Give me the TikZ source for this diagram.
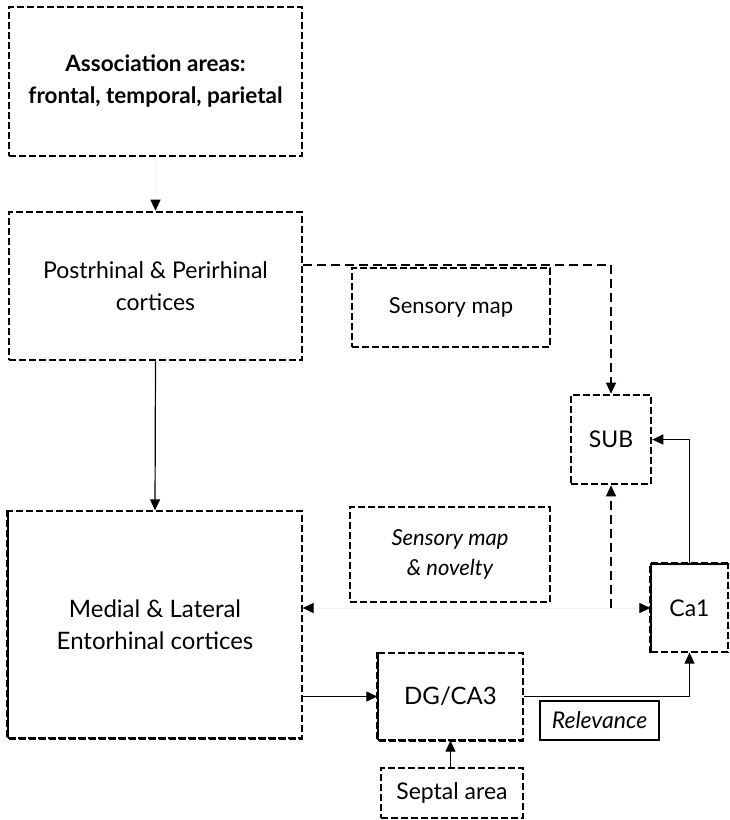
\documentclass[tikz,border=0pt]{standalone}
\usepackage{fontspec}
\setmainfont{Lato}
\usetikzlibrary{arrows.meta}
\begin{document}
\begin{tikzpicture}[x=1pt,y=-1pt,
  box/.style={draw, line width=2.6pt, dash pattern=on 7pt off 3pt, inner sep=0pt, align=center, font=\fontsize{23}{32}\selectfont},
  thinbox/.style={box, line width=1.3pt},
  thickedge/.style={line width=2.6pt, dash pattern=on 7pt off 3pt},
  solidbox/.style={draw, line width=1.6pt, inner sep=0pt, align=center, font=\fontsize{23}{26}\selectfont\itshape},
  arr/.style={line width=1.2pt, -{Triangle[length=11pt,width=10pt]}},
  darr/.style={line width=1.2pt, dash pattern=on 9pt off 5pt, -{Triangle[length=11pt,width=10pt]}},
  ghost/.style={line width=1pt, draw=black!5, -{Triangle[length=11pt,width=10pt,color=black]}},
  ghost2/.style={line width=1pt, draw=black!5, {Triangle[length=11pt,width=10pt,color=black]}-{Triangle[length=11pt,width=10pt,color=black]}}
]
\useasboundingbox (0,0) rectangle (729,820);
\fill[white] (0,0) rectangle (729,820);

\node[box, minimum width=293pt, minimum height=149pt, font=\fontsize{22.5}{32}\selectfont\bfseries] (A) at (155.5,81.5) {Association areas:\\frontal, temporal, parietal};
\node[box, minimum width=293pt, minimum height=148pt] (P) at (155.5,286) {Postrhinal \& Perirhinal\\cortices};
\node[box, minimum width=198pt, minimum height=79pt, font=\fontsize{22}{30}\selectfont] (SM) at (451,307.5) {Sensory map};
\node[thinbox, minimum width=294pt, minimum height=227pt, font=\fontsize{24}{32}\selectfont] (M) at (155,624.5) {Medial \& Lateral\\Entorhinal cortices};
\node[box, minimum width=200pt, minimum height=95pt, font=\fontsize{22}{30}\selectfont\itshape] (SN) at (450,554.5) {Sensory map\\\& novelty};
\node[box, minimum width=80pt, minimum height=89pt] (SUB) at (611,439.5) {SUB};
\node[thinbox, minimum width=77pt, minimum height=88pt] (C) at (689.5,608) {Ca1};
\node[thinbox, minimum width=145pt, minimum height=87pt, font=\fontsize{24}{28}\selectfont] (DG) at (450.5,696.5) {DG/CA3};
\node[solidbox, minimum width=119pt, minimum height=39pt] (R) at (599.5,720.5) {Relevance};
\node[box, minimum width=142pt, minimum height=50pt] (S) at (452,793) {Septal area};

% thick edges on thin boxes
\draw[thickedge] (M.north west) -- (M.south west) -- (M.south east);
\draw[thickedge] (DG.north west) -- (DG.south west) -- (DG.south east);
\draw[thickedge] (C.south west) -- (C.north west) -- (C.north east);

% connectors
\draw[ghost] (A.south) -- (P.north);
\draw[darr] ([yshift=21pt]P.east) -| (SUB.north);
\draw[arr] (P.south) -- (M.north);
\draw[arr] (DG.west -| M.east) -- (DG.west);
\draw[arr] (DG.south |- S.north) -- (DG.south);
\draw[arr] (DG.east) -| (C.south);
\draw[arr] (C.north) |- (SUB.east);
\coordinate (d) at (611,608);
\draw[darr] (d) -- (SUB.south);
\draw[ghost2] (M.east |- C.west) -- (C.west);
\end{tikzpicture}
\end{document}
